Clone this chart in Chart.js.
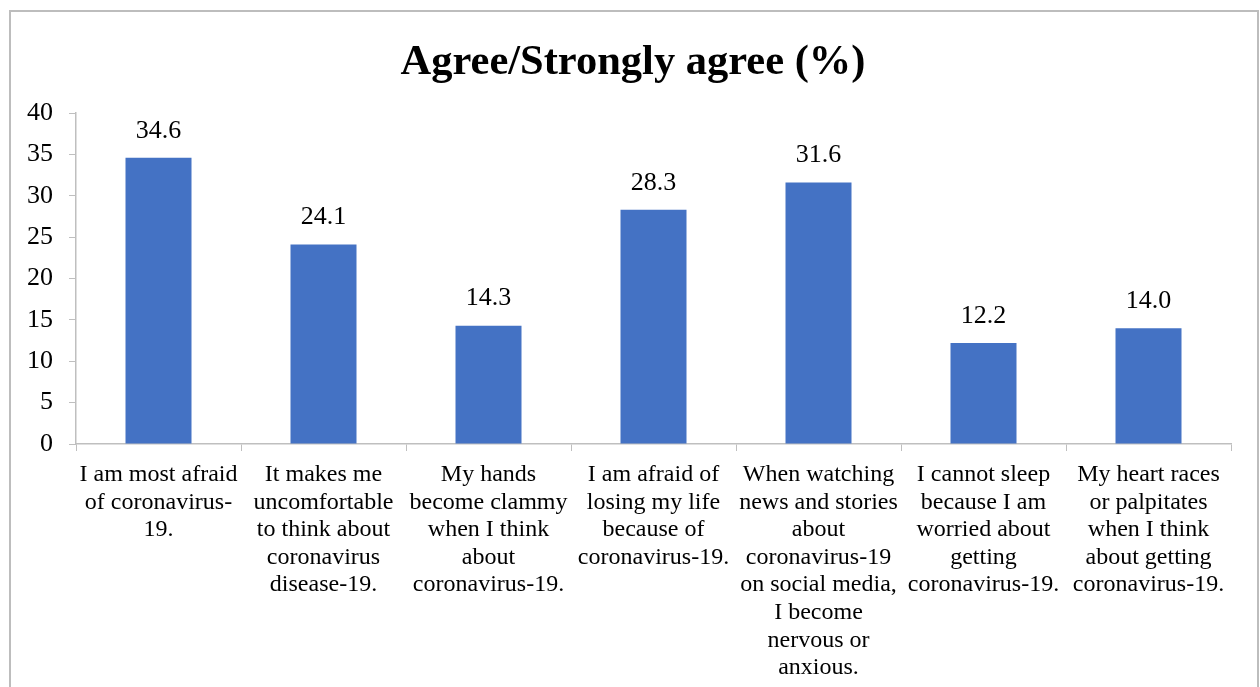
<!DOCTYPE html>
<html lang="en">
<head>
  <meta charset="UTF-8">
  <title>Agree/Strongly agree (%)</title>
  <script src="https://cdn.jsdelivr.net/npm/chart.js"></script>
  <style>
    html, body { margin: 0; padding: 0; background: #fff; }
    #wrap { position: relative; width: 1260px; height: 687px; overflow: hidden; }
    #frame { position: absolute; left: 9px; top: 10px; width: 1246px; height: 720px; border: 2px solid #bdbdbd; }
    #chart { position: absolute; left: 0; top: 0; }
  </style>
</head>
<body>
<div id="wrap">
  <div id="frame"></div>
  <canvas id="chart" width="1260" height="687"></canvas>
</div>
<script>
  const titleText = 'Agree/Strongly agree (%)';
  // category labels, one array of lines per bar
  const categories = [
    ['I am most afraid', 'of coronavirus-', '19.'],
    ['It makes me', 'uncomfortable', 'to think about', 'coronavirus', 'disease-19.'],
    ['My hands', 'become clammy', 'when I think', 'about', 'coronavirus-19.'],
    ['I am afraid of', 'losing my life', 'because of', 'coronavirus-19.'],
    ['When watching', 'news and stories', 'about', 'coronavirus-19', 'on social media,', 'I become', 'nervous or', 'anxious.'],
    ['I cannot sleep', 'because I am', 'worried about', 'getting', 'coronavirus-19.'],
    ['My heart races', 'or palpitates', 'when I think', 'about getting', 'coronavirus-19.']
  ];
  const agreeValues = [34.6, 24.1, 14.3, 28.3, 31.6, 12.2, 14.0];
  const yMin = 0, yMax = 40, yStep = 5;

  const serif = "'Liberation Serif', 'Times New Roman', serif";
  const axisGray = '#bfbfbf';

  // value labels above each bar
  const valueLabels = {
    id: 'valueLabels',
    afterDatasetsDraw(chart) {
      const ctx = chart.ctx;
      const meta = chart.getDatasetMeta(0);
      ctx.save();
      ctx.font = '26px ' + serif;
      ctx.fillStyle = '#000';
      ctx.textAlign = 'center';
      ctx.textBaseline = 'middle';
      meta.data.forEach((bar, i) => {
        ctx.fillText(agreeValues[i].toFixed(1), bar.x, bar.y - 27);
      });
      ctx.restore();
    }
  };

  // title centred on the whole frame rather than the padded box
  const frameTitle = {
    id: 'frameTitle',
    afterDraw(chart) {
      const ctx = chart.ctx;
      ctx.save();
      ctx.font = 'bold 42.5px ' + serif;
      ctx.fillStyle = '#000';
      ctx.textAlign = 'center';
      ctx.textBaseline = 'middle';
      ctx.fillText(titleText, chart.width / 2 + 3, 63);
      ctx.restore();
    }
  };

  new Chart(document.getElementById('chart'), {
    type: 'bar',
    data: {
      labels: categories,
      datasets: [{
        data: agreeValues,
        backgroundColor: '#4472C4',
        borderWidth: 0,
        barPercentage: 0.4,
        categoryPercentage: 1.0
      }]
    },
    options: {
      responsive: false,
      animation: false,
      layout: { padding: { left: 10, right: 29, top: 113, bottom: 0 } },
      plugins: {
        legend: { display: false },
        tooltip: { enabled: false },
        title: { display: false }
      },
      scales: {
        x: {
          grid: { drawOnChartArea: false, drawTicks: true, tickLength: 7, color: axisGray, offset: true },
          border: { display: true, color: axisGray, width: 1.5 },
          ticks: {
            color: '#000',
            font: { family: serif, size: 24, lineHeight: 1.15 },
            autoSkip: false,
            maxRotation: 0,
            padding: 10
          },
          afterFit(scale) { scale.height = 243; }
        },
        y: {
          min: yMin,
          max: yMax,
          grid: { drawOnChartArea: false, drawTicks: true, tickLength: 7, color: axisGray },
          border: { display: true, color: axisGray, width: 1.5 },
          ticks: {
            stepSize: yStep,
            color: '#000',
            font: { family: serif, size: 26 },
            padding: 16
          },
          afterFit(scale) { scale.width = 66; }
        }
      }
    },
    plugins: [valueLabels, frameTitle]
  });
</script>
</body>
</html>
